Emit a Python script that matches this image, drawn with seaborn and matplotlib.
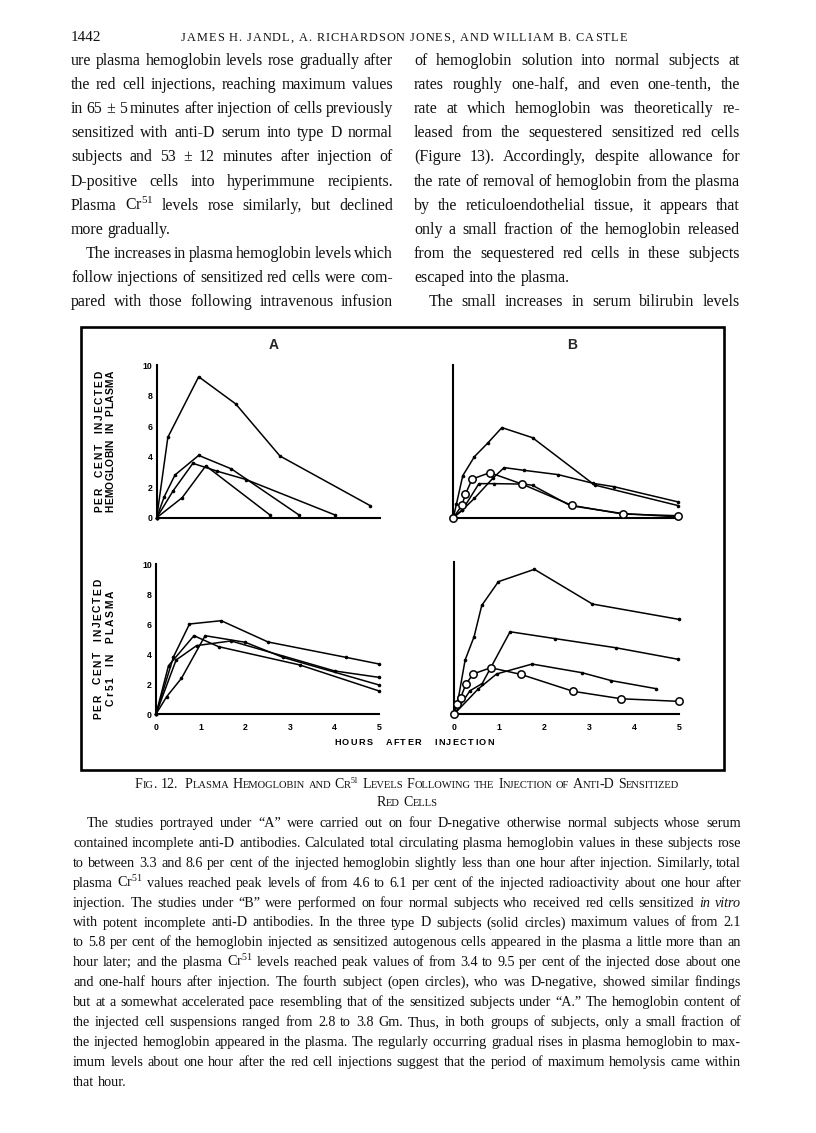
import matplotlib
matplotlib.use("Agg")
import matplotlib.pyplot as plt
import seaborn as sns
import pandas as pd
from matplotlib.patches import Rectangle

# ---------------- data (hours after injection, per cent injected) ----------------
# Panel A - hemoglobin in plasma (four D-negative subjects, solid circles)
a_hb1_h = [0, 0.25, 0.94, 1.77, 2.76, 4.78]
a_hb1_v = [0, 5.27, 9.23, 7.45, 4.04, 0.79]
a_hb2_h = [0, 0.17, 0.41, 0.94, 1.67, 3.19]
a_hb2_v = [0, 1.38, 2.80, 4.08, 3.20, 0.17]
a_hb3_h = [0, 0.37, 0.81, 1.36, 2.0, 4.0]
a_hb3_v = [0, 1.77, 3.56, 3.04, 2.50, 0.17]
a_hb4_h = [0, 0.57, 1.10, 2.54]
a_hb4_v = [0, 1.31, 3.40, 0.17]

# Panel A - Cr51 in plasma
a_cr1_h = [0, 0.39, 0.75, 1.46, 2.51, 4.25, 5.0]
a_cr1_v = [0, 3.80, 6.00, 6.22, 4.80, 3.78, 3.33]
a_cr2_h = [0, 0.28, 0.85, 1.40, 3.22, 5.0]
a_cr2_v = [0, 3.22, 5.22, 4.49, 3.27, 1.53]
a_cr3_h = [0, 0.24, 0.57, 1.10, 2.0, 2.84, 5.0]
a_cr3_v = [0, 1.16, 2.38, 5.22, 4.78, 3.78, 1.93]
a_cr4_h = [0, 0.45, 0.91, 1.68, 4.0, 5.0]
a_cr4_v = [0, 3.60, 4.56, 4.87, 2.87, 2.44]

# Panel B - hemoglobin in plasma (three solid-circle subjects, one open-circle)
b_hb1_h = [0, 0.07, 0.21, 0.47, 0.76, 1.08, 1.76, 3.14, 5.0]
b_hb1_v = [0, 0.90, 2.75, 4.00, 4.87, 5.90, 5.24, 2.14, 0.79]
b_hb2_h = [0, 0.20, 0.47, 0.89, 1.13, 1.58, 2.33, 3.11, 3.57, 5.0]
b_hb2_v = [0, 0.50, 1.27, 2.62, 3.28, 3.10, 2.82, 2.25, 2.03, 1.03]
b_hb3_h = [0, 0.20, 0.57, 0.90, 1.58, 1.76, 2.60, 3.74, 5.0]
b_hb3_v = [0, 0.50, 2.23, 2.23, 2.20, 2.12, 0.79, 0.28, 0.05]
b_hb_open_h = [0, 0.19, 0.27, 0.42, 0.81, 1.53, 2.63, 3.76, 5.0]
b_hb_open_v = [0, 0.80, 1.55, 2.53, 2.95, 2.20, 0.81, 0.24, 0.13]

# Panel B - Cr51 in plasma
b_cr1_h = [0, 0.10, 0.24, 0.44, 0.61, 0.98, 1.78, 3.07, 5.0]
b_cr1_v = [0, 1.20, 3.54, 5.08, 7.13, 8.69, 9.50, 7.22, 6.21]
b_cr2_h = [0, 0.35, 0.62, 1.24, 2.24, 3.59, 4.98]
b_cr2_v = [0, 1.53, 2.00, 5.40, 4.95, 4.35, 3.59]
b_cr3_h = [0, 0.53, 0.94, 1.73, 2.84, 3.49, 4.49]
b_cr3_v = [0, 1.64, 2.63, 3.28, 2.71, 2.19, 1.66]
b_cr_open_h = [0, 0.05, 0.14, 0.26, 0.42, 0.81, 1.48, 2.64, 3.71, 4.99]
b_cr_open_v = [0, 0.66, 1.07, 1.97, 2.63, 3.04, 2.60, 1.49, 1.00, 0.83]

x_ticks = [0, 1, 2, 3, 4, 5]
x_tick_labels = ["0", "1", "2", "3", "4", "5"]
y_ticks = [0, 2, 4, 6, 8, 10]
y_tick_labels = ["0", "2", "4", "6", "8", "10"]

# ---------------- text ----------------
header_num = "1442"
header_authors = "JAMES H. JANDL, A. RICHARDSON JONES, AND WILLIAM B. CASTLE"
col1_lines = [
    "ure plasma hemoglobin levels rose gradually after",
    "the red cell injections, reaching maximum values",
    "in 65 ± 5 minutes after injection of cells previously",
    "sensitized with anti-D serum into type D normal",
    "subjects and 53 ± 12 minutes after injection of",
    "D-positive cells into hyperimmune recipients.",
    "Plasma Cr$^{51}$ levels rose similarly, but declined",
    "more gradually.",
    "The increases in plasma hemoglobin levels which",
    "follow injections of sensitized red cells were com-",
    "pared with those following intravenous infusion",
]
col1_last = [7]
col1_indent = [8]
col2_lines = [
    "of hemoglobin solution into normal subjects at",
    "rates roughly one-half, and even one-tenth, the",
    "rate at which hemoglobin was theoretically re-",
    "leased from the sequestered sensitized red cells",
    "(Figure 13). Accordingly, despite allowance for",
    "the rate of removal of hemoglobin from the plasma",
    "by the reticuloendothelial tissue, it appears that",
    "only a small fraction of the hemoglobin released",
    "from the sequestered red cells in these subjects",
    "escaped into the plasma.",
    "The small increases in serum bilirubin levels",
]
col2_last = [9]
col2_indent = [10]
caption_title = "Fig. 12.  Plasma Hemoglobin and Cr^51 Levels Following the Injection of Anti-D Sensitized"
caption_title2 = "Red Cells"
caption_lines = [
    "The studies portrayed under “A” were carried out on four D-negative otherwise normal subjects whose serum",
    "contained incomplete anti-D antibodies. Calculated total circulating plasma hemoglobin values in these subjects rose",
    "to between 3.3 and 8.6 per cent of the injected hemoglobin slightly less than one hour after injection. Similarly, total",
    "plasma Cr$^{51}$ values reached peak levels of from 4.6 to 6.1 per cent of the injected radioactivity about one hour after",
    "injection. The studies under “B” were performed on four normal subjects who received red cells sensitized *in *vitro",
    "with potent incomplete anti-D antibodies. In the three type D subjects (solid circles) maximum values of from 2.1",
    "to 5.8 per cent of the hemoglobin injected as sensitized autogenous cells appeared in the plasma a little more than an",
    "hour later; and the plasma Cr$^{51}$ levels reached peak values of from 3.4 to 9.5 per cent of the injected dose about one",
    "and one-half hours after injection. The fourth subject (open circles), who was D-negative, showed similar findings",
    "but at a somewhat accelerated pace resembling that of the sensitized subjects under “A.” The hemoglobin content of",
    "the injected cell suspensions ranged from 2.8 to 3.8 Gm. Thus, in both groups of subjects, only a small fraction of",
    "the injected hemoglobin appeared in the plasma. The regularly occurring gradual rises in plasma hemoglobin to max-",
    "imum levels about one hour after the red cell injections suggest that the period of maximum hemolysis came within",
    "that hour.",
]
caption_last = [13]
caption_indent = [0]

# ---------------- figure ----------------
sns.set_theme(style="white")
plt.rcParams["font.family"] = ["DejaVu Sans"]
plt.rcParams["mathtext.fontset"] = "custom"
plt.rcParams["mathtext.rm"] = "Liberation Serif"
plt.rcParams["mathtext.it"] = "Liberation Serif:italic"
plt.rcParams["mathtext.bf"] = "Liberation Serif:bold"

W, H = 816, 1133
fig = plt.figure(figsize=(W / 100, H / 100), dpi=100)
fig.patch.set_facecolor("white")
renderer = fig.canvas.get_renderer()
SERIF = "Liberation Serif"
SANS = "Liberation Sans"


def tw(s, size, family=SERIF, style="normal", weight="normal"):
    t = fig.text(0, 0, s, fontsize=size, family=family, style=style, weight=weight)
    w = t.get_window_extent(renderer).width
    t.remove()
    return w


def put(x, y, s, **kw):
    return fig.text(x / W, 1 - y / H, s, **kw)


def draw_block(lines, x0, x1, base0, dy, size, last, indent, ind_px):
    for _ in range(3):
        worst = 0
        for i, line in enumerate(lines):
            avail = x1 - x0 - (ind_px if i in indent else 0)
            words = line.split()
            natural = sum(tw(w.lstrip("*"), size) for w in words) + 0.3 * tw("n", size) * (len(words) - 1)
            worst = max(worst, natural / avail)
        if worst > 1:
            size = size / worst * 0.995
        else:
            break
    sp = tw("a a", size) - tw("aa", size)
    for i, line in enumerate(lines):
        y = base0 + dy * i
        xs = x0 + (ind_px if i in indent else 0)
        words = line.split()
        styles = ["italic" if w.startswith("*") else "normal" for w in words]
        words = [w.lstrip("*") for w in words]
        ws = [tw(w, size, style=s) for w, s in zip(words, styles)]
        if i not in last and len(words) > 1:
            gap = (x1 - xs - sum(ws)) / (len(words) - 1)
        else:
            gap = sp
        x = xs
        for w, s, wd in zip(words, styles, ws):
            put(x, y, w, ha="left", va="baseline", fontsize=size, family=SERIF, style=s, color="#111111")
            x += wd + gap


def tracked(cx, cy, s, length, size, rotation=0, family=SANS, weight="bold"):
    sp = tw("a a", size, family, weight=weight) - tw("aa", size, family, weight=weight)
    ws = [tw(c, size, family=family, weight=weight) if c != " " else sp for c in s]
    n = len(s)
    extra = (length - sum(ws)) / (n - 1)
    pos = -length / 2
    for c, wd in zip(s, ws):
        mid = pos + wd / 2
        if c != " ":
            if rotation == 0:
                put(cx + mid, cy, c, ha="center", va="baseline", fontsize=size, family=family,
                    weight=weight, color="black")
            else:
                put(cx, cy - mid, c, ha="center", va="baseline", rotation=90, rotation_mode="anchor",
                    fontsize=size, family=family, weight=weight, color="black")
        pos += wd + extra


def small_caps(cx, base, text, big, small):
    runs = []
    for word_i, word in enumerate(text.split(" ")):
        if word_i > 0:
            runs.append((" ", big, False))
        sup = None
        if "^" in word:
            word, sup = word.split("^")
        cur, cur_big = "", None
        for ch in word:
            isbig = not ch.islower()
            if cur and isbig != cur_big:
                runs.append((cur if cur_big else cur.upper(), big if cur_big else small, False))
                cur = ""
            cur += ch
            cur_big = isbig
        if cur:
            runs.append((cur if cur_big else cur.upper(), big if cur_big else small, False))
        if sup:
            runs.append((sup, small * 0.75, True))
    widths = []
    for s, sz, sp in runs:
        if s == " ":
            widths.append(tw("a a", sz) - tw("aa", sz))
        else:
            widths.append(tw(s, sz))
    total = sum(widths)
    x = cx - total / 2
    for (s, sz, sp), wd in zip(runs, widths):
        if s != " ":
            put(x, base - (5 if sp else 0), s, ha="left", va="baseline", fontsize=sz, family=SERIF, color="#111111")
        x += wd


# ---------------- page text ----------------
put(71, 41, header_num, ha="left", va="baseline", fontsize=11, family=SERIF, color="#111111")
hs = 8.8
hsp = tw("a a", hs) - tw("aa", hs)
hw = [tw(c, hs) if c != " " else hsp for c in header_authors]
hx0, hx1 = 181, 627
extra = (hx1 - hx0 - sum(hw)) / (len(header_authors) - 1)
x = hx0
for c, wd in zip(header_authors, hw):
    if c != " ":
        put(x, 41, c, ha="left", va="baseline", fontsize=hs, family=SERIF, color="#111111")
    x += wd + extra

draw_block(col1_lines, 71, 393, 65, 24.1, 11.5, col1_last, col1_indent, 15)
draw_block(col2_lines, 414, 740, 65, 24.1, 11.5, col2_last, col2_indent, 15)

small_caps(407, 788, caption_title, 10, 7.6)
small_caps(407, 806, caption_title2, 10, 7.6)
draw_block(caption_lines, 73, 741, 827, 19.9, 10.2, caption_last, caption_indent, 14)

# ---------------- figure frame ----------------
fig.patches.append(Rectangle((80.7 / W, 1 - 770 / H), (724 - 80.7) / W, (770 - 326.7) / H,
                             transform=fig.transFigure, fill=False, lw=1.9, ec="black"))


# ---------------- panels ----------------
def make_ax(x0, x5, y0, y10):
    ax = fig.add_axes([x0 / W, 1 - y0 / H, (x5 - x0) / W, (y0 - y10) / H])
    ax.set_facecolor("none")
    return ax


ax_a1 = make_ax(156.7, 380.0, 517.7, 365.0)
ax_b1 = make_ax(453.3, 678.3, 517.7, 365.0)
ax_a2 = make_ax(156.0, 379.3, 714.0, 564.0)
ax_b2 = make_ax(454.3, 679.3, 714.0, 561.7)


def series(ax, h, v, open_marker=False):
    df = pd.DataFrame({"hours": h, "pct": v})
    if open_marker:
        sns.lineplot(data=df, x="hours", y="pct", ax=ax, sort=False, estimator=None, color="black",
                     lw=1.1, marker="o", markersize=5.3, markerfacecolor="white", markeredgecolor="black",
                     markeredgewidth=1.1, clip_on=False, zorder=4)
    else:
        sns.lineplot(data=df, x="hours", y="pct", ax=ax, sort=False, estimator=None, color="black",
                     lw=1.1, marker="o", markersize=2.6, markeredgewidth=0, clip_on=False, zorder=3)


series(ax_a1, a_hb1_h, a_hb1_v)
series(ax_a1, a_hb2_h, a_hb2_v)
series(ax_a1, a_hb3_h, a_hb3_v)
series(ax_a1, a_hb4_h, a_hb4_v)
series(ax_a2, a_cr1_h, a_cr1_v)
series(ax_a2, a_cr2_h, a_cr2_v)
series(ax_a2, a_cr3_h, a_cr3_v)
series(ax_a2, a_cr4_h, a_cr4_v)
series(ax_b1, b_hb1_h, b_hb1_v)
series(ax_b1, b_hb2_h, b_hb2_v)
series(ax_b1, b_hb3_h, b_hb3_v)
series(ax_b1, b_hb_open_h, b_hb_open_v, open_marker=True)
series(ax_b2, b_cr1_h, b_cr1_v)
series(ax_b2, b_cr2_h, b_cr2_v)
series(ax_b2, b_cr3_h, b_cr3_v)
series(ax_b2, b_cr_open_h, b_cr_open_v, open_marker=True)

for ax, ylab, xlab in [(ax_a1, True, False), (ax_b1, False, False), (ax_a2, True, True), (ax_b2, False, True)]:
    ax.set_xlim(0, 5)
    ax.set_ylim(0, 10)
    ax.set_xticks(x_ticks)
    ax.set_yticks(y_ticks)
    ax.set_xticklabels(x_tick_labels if xlab else [])
    ax.set_yticklabels(y_tick_labels if ylab else [])
    ax.set_xlabel("")
    ax.set_ylabel("")
    sns.despine(ax=ax)
    for sp in ["left", "bottom"]:
        ax.spines[sp].set_color("black")
        ax.spines[sp].set_linewidth(1.5)
    ax.tick_params(axis="both", which="both", direction="inout", length=3, width=1.0, colors="black",
                   labelsize=6.3)
    ax.tick_params(axis="x", pad=5)
    ax.tick_params(axis="y", pad=1.5)
    for lab in ax.get_xticklabels() + ax.get_yticklabels():
        lab.set_fontweight("bold")
        lab.set_family(SANS)

# panel letters
put(274, 349.5, "A", ha="center", va="baseline", fontsize=10, family=SANS, weight="bold")
put(572.5, 348.5, "B", ha="center", va="baseline", fontsize=10, family=SANS, weight="bold")

# axis titles (letter-spaced, bold)
tracked(102.5, 441.5, "PER  CENT  INJECTED", 141, 7.4, rotation=90)
tracked(113.5, 441.5, "HEMOGLOBIN  IN  PLASMA", 141, 7.4, rotation=90)
tracked(101.0, 649.0, "PER  CENT  INJECTED", 140, 7.4, rotation=90)
tracked(113.5, 648.0, "Cr51  IN  PLASMA", 115, 7.4, rotation=90)
tracked(414.0, 745.0, "HOURS   AFTER   INJECTION", 160, 6.6)

fig.savefig("out.png", dpi=100, facecolor="white")
